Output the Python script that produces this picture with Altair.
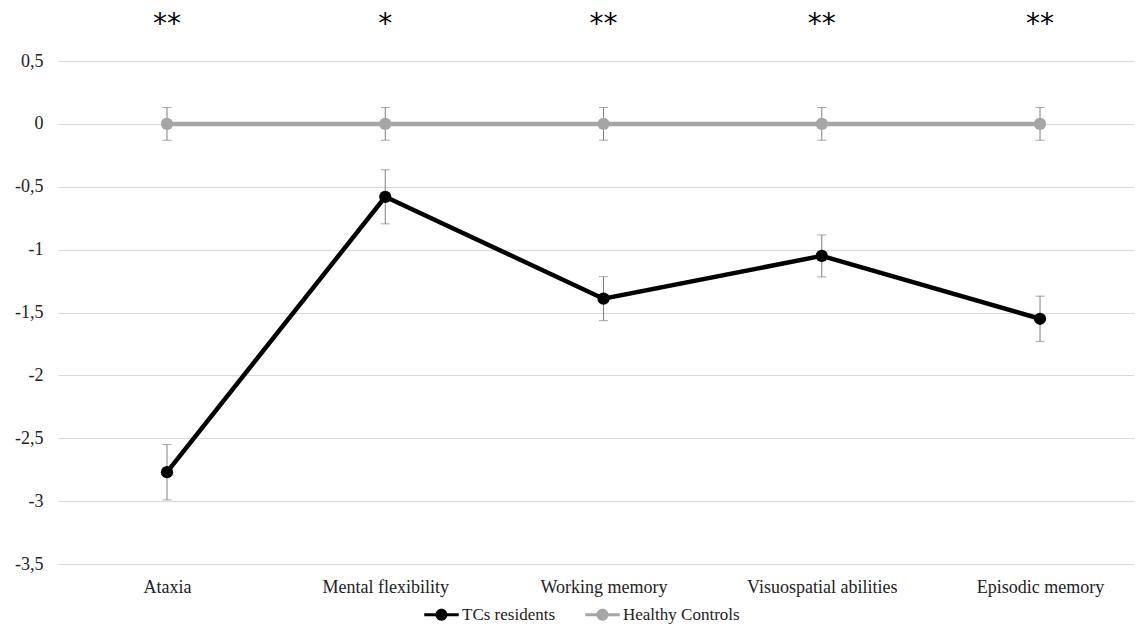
import altair as alt
import pandas as pd

categories = ["Ataxia", "Mental flexibility", "Working memory", "Visuospatial abilities", "Episodic memory"]
tcs_values = [-2.77, -0.58, -1.39, -1.05, -1.55]
tcs_errors = [0.22, 0.215, 0.175, 0.167, 0.18]
hc_values = [0, 0, 0, 0, 0]
hc_errors = [0.13, 0.13, 0.13, 0.13, 0.13]
significance = ["**", "*", "**", "**", "**"]
series_names = ["TCs residents", "Healthy Controls"]
series_colors = ["#000000", "#A5A5A5"]
y_ticks = [-3.5, -3, -2.5, -2, -1.5, -1, -0.5, 0, 0.5]

rows = []
for name, vals, errs in [(series_names[0], tcs_values, tcs_errors), (series_names[1], hc_values, hc_errors)]:
    for c, v, e in zip(categories, vals, errs):
        rows.append({"cat": c, "series": name, "value": v, "lo": v - e, "hi": v + e})
df = pd.DataFrame(rows)
sig_df = pd.DataFrame({"cat": categories, "label": significance, "y": [0.79] * len(categories)})

FONT = "Liberation Serif"
W, H = 1076, 503

x_enc = alt.X("cat:N", sort=categories,
              scale=alt.Scale(type="point", padding=0.465, align=0.537),
              axis=alt.Axis(title=None, labelAngle=0, ticks=False, domain=False, grid=False,
                            labelFont=FONT, labelFontSize=18, labelColor="#222222", labelPadding=14))
y_scale = alt.Scale(domain=[-3.5, 0.5], nice=False, zero=False)
y_axis = alt.Axis(title=None, values=y_ticks, ticks=False, domain=False, grid=True,
                  gridColor="#d9d9d9", gridWidth=1,
                  labelExpr="replace(toString(datum.value), '.', ',')",
                  labelFont=FONT, labelFontSize=18, labelColor="#222222", labelPadding=15)


def yq(field):
    return alt.Y(field, type="quantitative", scale=y_scale, axis=y_axis)


legend_symbol = ("M -2.5 -0.22 L 2.5 -0.22 L 2.5 0.22 L -2.5 0.22 Z "
                 "M 0.87 0 A 0.87 0.87 0 1 1 -0.87 0 A 0.87 0.87 0 1 1 0.87 0 Z")

color_scale = alt.Scale(domain=series_names, range=series_colors)
color = alt.Color("series:N", sort=series_names, scale=color_scale,
                  legend=alt.Legend(title=None, orient="none", direction="horizontal",
                                    legendX=375, legendY=545,
                                    symbolType=legend_symbol,
                                    symbolSize=190, symbolStrokeWidth=0,
                                    labelFont=FONT, labelFontSize=17, labelColor="#222222",
                                    labelOffset=12, columnPadding=29))

base = alt.Chart(df)

err_rule = base.mark_rule(color="#808080", strokeWidth=1).encode(x=x_enc, y=yq("lo"), y2="hi:Q")
cap_lo = base.mark_tick(color="#808080", thickness=1, size=9).encode(x=x_enc, y=yq("lo"))
cap_hi = base.mark_tick(color="#808080", thickness=1, size=9).encode(x=x_enc, y=yq("hi"))

lines = base.mark_line(strokeWidth=4.5).encode(x=x_enc, y=yq("value"), color=color, detail="series:N")
points = base.mark_point(filled=True, size=150, opacity=1).encode(
    x=x_enc, y=yq("value"),
    color=alt.Color("series:N", sort=series_names, scale=color_scale, legend=None))

sig = alt.Chart(sig_df).mark_text(font="DejaVu Sans", fontSize=28, baseline="middle", color="#000000").encode(
    x=x_enc, y=yq("y"), text="label:N")

chart = alt.layer(lines, err_rule, cap_lo, cap_hi, points, sig).properties(
    width=W, height=H,
    autosize=alt.AutoSizeParams(type="none"),
    padding={"left": 50, "top": 53, "right": 0, "bottom": 62},
).configure_view(stroke=None)

chart.save("out.html", embed_options={"renderer": "svg", "actions": False})
